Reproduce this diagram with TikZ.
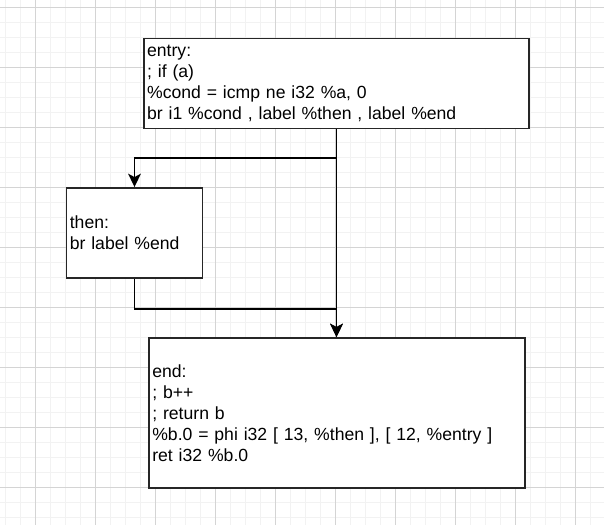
\documentclass[tikz,border=0pt]{standalone}
\usepackage{fontspec}
\setmainfont{Liberation Sans}
\usetikzlibrary{arrows.meta}
\definecolor{minorgrid}{HTML}{F2F2F2}
\definecolor{majorgrid}{HTML}{D4D4D4}
\tikzset{
  block/.style={draw=black!85, fill=white, line width=1.4pt, inner xsep=2.5pt, inner ysep=0pt,
    align=left, font=\fontsize{13.2pt}{15.75pt}\selectfont, text=black},
  edge/.style={draw=black, line width=1.4pt, -{Stealth[length=10pt,width=9.5pt,inset=2.5pt]}},
}
\begin{document}
\begin{tikzpicture}[x=0.75pt,y=-0.75pt]
\useasboundingbox (0,0) rectangle (604,525);
\fill[white] (0,0) rectangle (604,525);
% grid
\foreach \x in {5,20,...,604} \draw[minorgrid,line width=0.75pt] (\x,0) -- (\x,525);
\foreach \y in {7,22,...,525} \draw[minorgrid,line width=0.75pt] (0,\y) -- (604,\y);
\foreach \x in {35,95,...,604} \draw[majorgrid,line width=0.75pt] (\x,0) -- (\x,525);
\foreach \y in {7,67,...,525} \draw[majorgrid,line width=0.75pt] (0,\y) -- (604,\y);
% blocks
\node[block, text width=284pt, minimum height=67.5pt] (entry) at (336.5,83.5)
  {entry:\\; if (a)\\\%cond = icmp ne i32 \%a, 0\\br i1 \%cond , label \%then , label \%end};
\node[block, text width=97pt, minimum height=67.5pt] (then) at (134.5,233)
  {then:\\br label \%end};
\node[block, text width=277pt, minimum height=112.5pt] (end) at (337,413)
  {end:\\; b++\\; return b\\\%b.0 = phi i32 [ 13, \%then ], [ 12, \%entry ]\\ret i32 \%b.0};
% connectors
\coordinate (split) at (entry.south |- 0,158);
\coordinate (endtop) at (entry.south |- end.north);
\draw[edge] (entry.south) -- (endtop);
\draw[edge] (split) -| (then.north);
\draw[edge] (then.south) -- ++(0,30) -| (endtop);
\end{tikzpicture}
\end{document}
